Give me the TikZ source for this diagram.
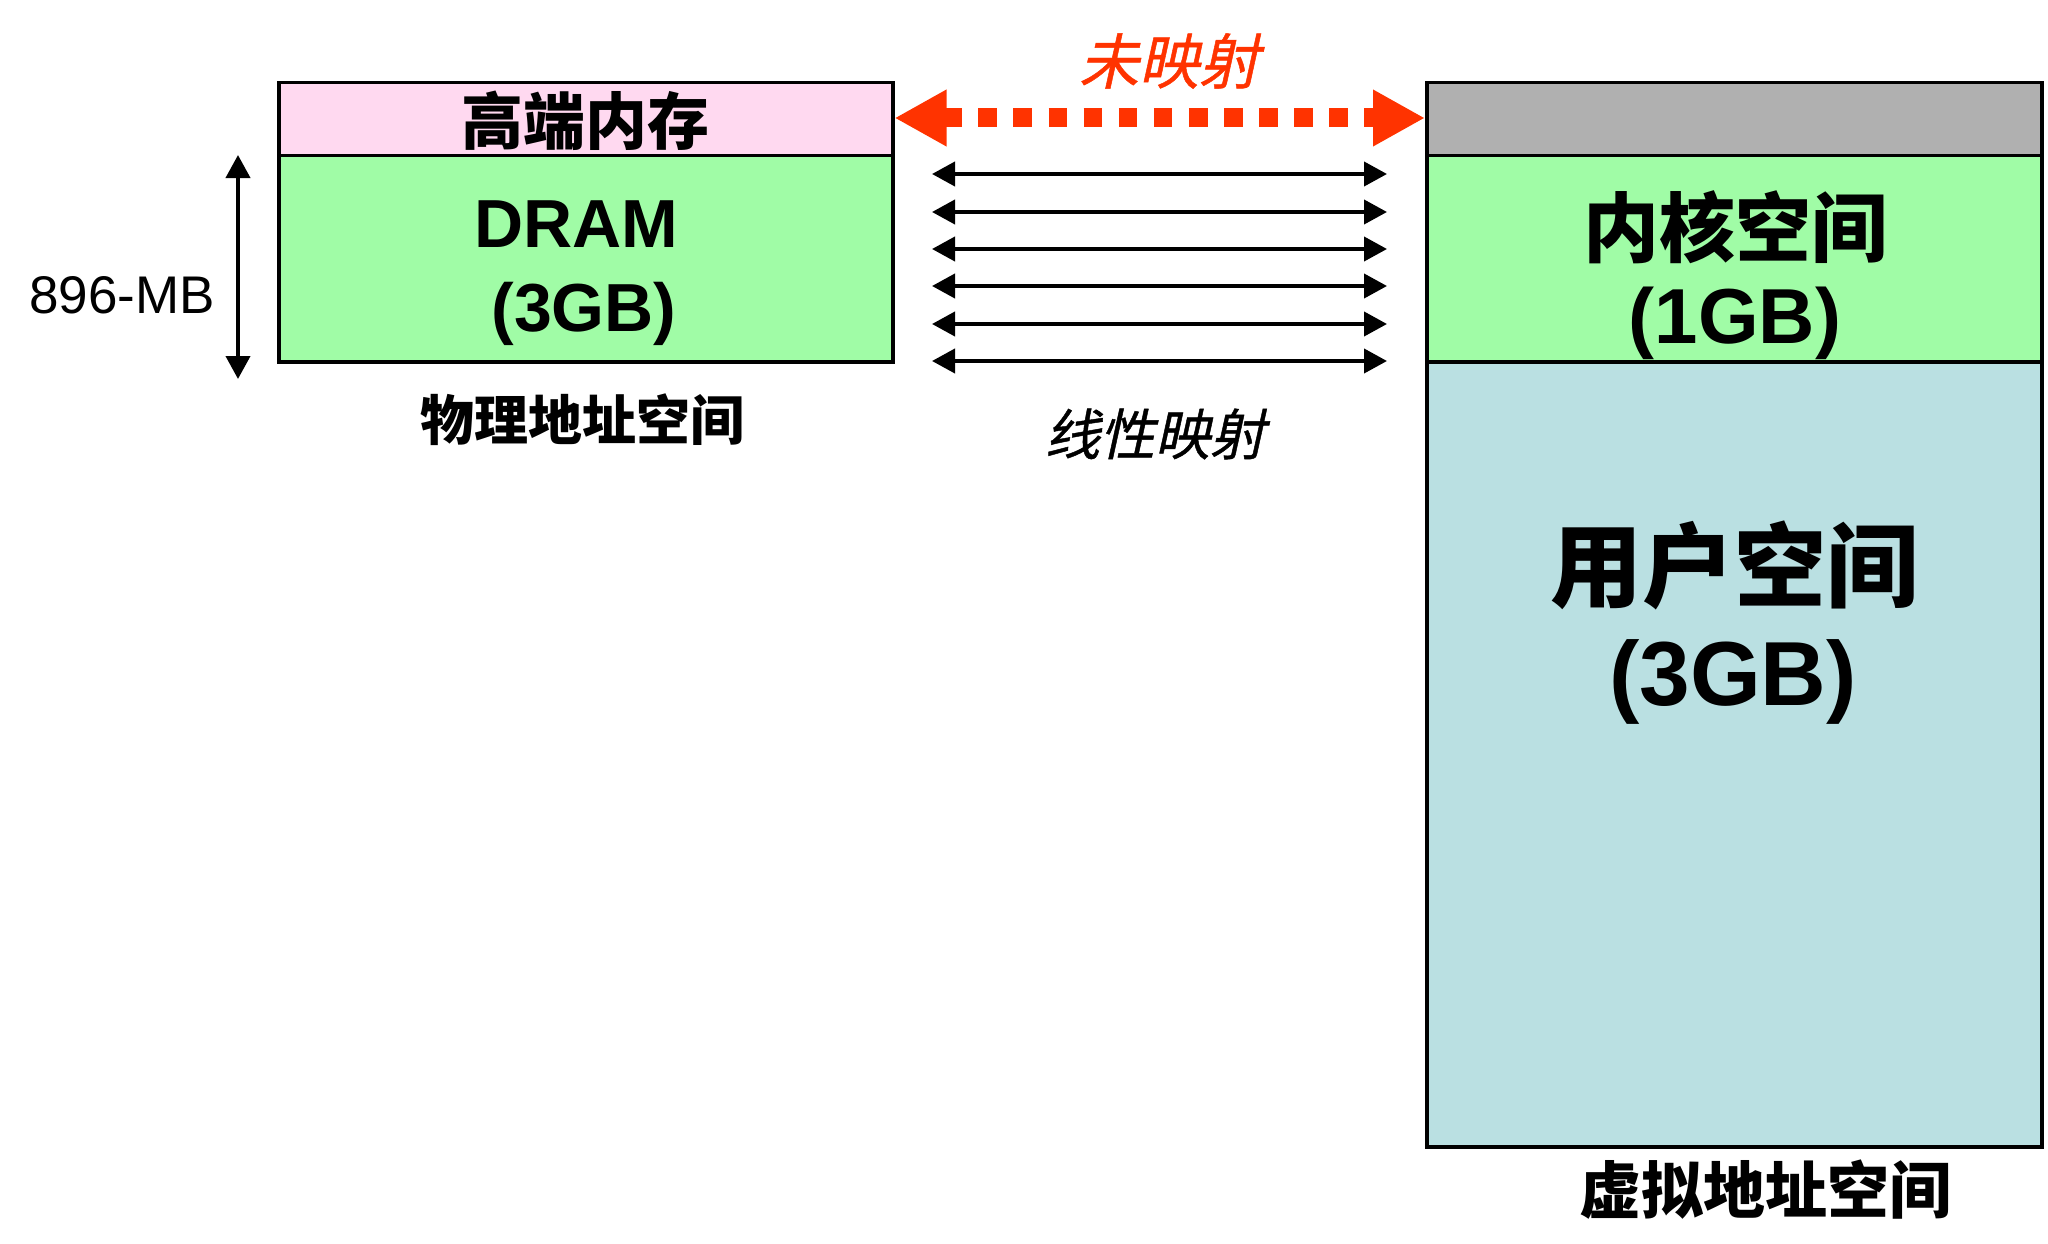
\documentclass[tikz,border=0pt]{standalone}
\usepackage{fontspec}
\setmainfont{Liberation Sans}
\newfontfamily\cjk{Noto Sans CJK SC}
\newfontfamily\cjksl{Noto Sans CJK SC}[FakeSlant=0.22,FakeBold=0.8]
\usetikzlibrary{arrows.meta}
\definecolor{pinkc}{RGB}{255,217,240}
\definecolor{greenc}{RGB}{160,252,166}
\definecolor{grayc}{RGB}{176,176,176}
\definecolor{bluec}{RGB}{186,224,226}
\definecolor{redc}{RGB}{255,51,0}
\newcommand{\fs}[1]{\fontsize{#1}{#1}\selectfont}
\begin{document}
\begin{tikzpicture}[x=1pt,y=-1pt,
  membox/.style={draw=black,line width=3.5pt,inner sep=0pt,anchor=north west},
  txt/.style={inner sep=0pt,text=black},
  linmap/.style={line width=4pt,{Triangle[length=23pt,width=24pt]}-{Triangle[length=23pt,width=24pt]}},
  unmap/.style={draw=redc,line width=19pt,dash pattern=on 18.6pt off 16.5pt,
     {Triangle[length=52pt,width=53pt]}-{Triangle[length=52pt,width=53pt]}}
]
\useasboundingbox (0,0) rectangle (2048,1244);
% physical boxes
\node[membox,fill=pinkc,minimum width=614,minimum height=73] (high) at (277,81) {};
\node[membox,fill=greenc,minimum width=614,minimum height=206] (dram) at (277,154) {};
% virtual boxes
\node[membox,fill=grayc,minimum width=615,minimum height=73] (unm) at (1425,81) {};
\node[membox,fill=greenc,minimum width=615,minimum height=206] (kern) at (1425,154) {};
\node[membox,fill=bluec,minimum width=615,minimum height=785] (user) at (1425,360) {};
% texts
\node[txt] (thigh) at (585,121) {\cjk\bfseries\fs{62}高端内存};
\node[txt,anchor=base] (tdram) at (576,247) {\bfseries\fs{68}DRAM};
\node[txt,anchor=base] (tdram2) at (584,331) {\bfseries\fs{68}(3GB)};
\node[txt] (tphys) at (582,420) {\cjk\bfseries\fs{54}物理地址空间};
\node[txt,anchor=base] (tmb) at (122,313) {\fs{53}896-MB};
\node[txt] (tkern) at (1735,227) {\cjk\bfseries\fs{76}内核空间};
\node[txt,anchor=base] (tkern2) at (1735,343) {\bfseries\fs{78}(1GB)};
\node[txt] (tuser) at (1734,565) {\cjk\bfseries\fs{92}用户空间};
\node[txt,anchor=base] (tuser2) at (1733,705) {\bfseries\fs{91}(3GB)};
\node[txt] (tvirt) at (1765,1190) {\cjk\bfseries\fs{62}虚拟地址空间};
\node[txt,text=redc] (tunmap) at (1169,61) {\cjksl\fs{60}未映射};
\node[txt] (tlin) at (1155,434) {\cjksl\fs{55}线性映射};
% unmapped arrow
\draw[unmap] (high.east |- 0,118) -- (unm.west |- 0,118);
% linear mapping arrows
\foreach \i/\yy in {1/174,2/212,3/249,4/286,5/324,6/361}{
  \coordinate (la\i) at (932,\yy);
  \coordinate (lb\i) at (1387,\yy);
  \draw[linmap] (la\i) -- (lb\i);
}
% 896-MB span arrow
\coordinate (vt) at (238,155);
\coordinate (vb) at (238,379);
\draw[linmap] (vt) -- (vb);
\end{tikzpicture}
\end{document}
